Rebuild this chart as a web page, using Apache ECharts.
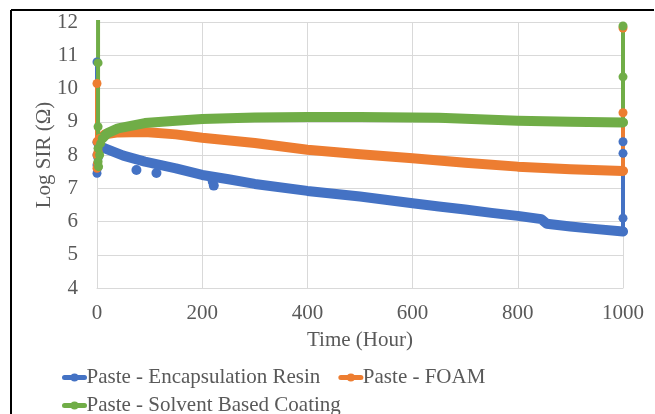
<!DOCTYPE html>
<html lang="en">
<head>
  <meta charset="UTF-8">
  <title>Log SIR vs Time</title>
  <style>
    * { margin: 0; padding: 0; box-sizing: border-box; }
    body { background: #fff; }
    #chart { width: 655px; height: 414px; }
  </style>
</head>
<body>
  <div id="chart"></div>
</body>
<script src="https://cdn.jsdelivr.net/npm/echarts@6/dist/echarts.min.js"></script>
<script>
  const seriesNames = ['Paste - Encapsulation Resin', 'Paste - FOAM', 'Paste - Solvent Based Coating']
  const colors = ['#4472C4', '#ED7D31', '#70AD47']

  // Encapsulation Resin
  const hoursEnc = [4, 15, 50, 91, 150, 200, 250, 300, 400, 500, 600, 650, 700, 750, 800, 845, 855, 900, 950, 1000]
  const sirEnc = [8.25, 8.2, 7.98, 7.8, 7.6, 7.4, 7.27, 7.13, 6.92, 6.75, 6.55, 6.45, 6.36, 6.26, 6.17, 6.07, 5.93, 5.85, 5.77, 5.7]
  const hoursEncStart = [0, 0, 0, 0, 0, 1, 2, 3, 4]
  const sirEncStart = [10.8, 8.38, 8.0, 7.7, 7.45, 7.6, 7.9, 8.1, 8.25]
  const hoursEncEnd = [1000, 1000, 1000, 1000]
  const sirEncEnd = [5.7, 6.1, 8.05, 8.4]
  const hoursEncOut = [75, 113, 220, 222]
  const sirEncOut = [7.55, 7.46, 7.2, 7.08]

  // FOAM
  const hoursFoam = [5, 15, 40, 91, 150, 200, 300, 400, 500, 600, 700, 800, 900, 1000]
  const sirFoam = [8.5, 8.62, 8.68, 8.69, 8.62, 8.52, 8.36, 8.16, 8.02, 7.9, 7.77, 7.65, 7.57, 7.52]
  const hoursFoamStart = [0, 0, 0, 0, 1, 2, 4, 5]
  const sirFoamStart = [10.15, 8.4, 8.0, 7.6, 7.75, 8.1, 8.4, 8.5]
  const hoursFoamEnd = [1000, 1000, 1000]
  const sirFoamEnd = [7.52, 9.27, 11.82]

  // Solvent Based Coating
  const hoursSolv = [10, 20, 40, 91, 150, 200, 300, 400, 500, 600, 650, 700, 750, 800, 900, 1000]
  const sirSolv = [8.5, 8.66, 8.8, 8.96, 9.03, 9.08, 9.13, 9.14, 9.14, 9.13, 9.12, 9.09, 9.06, 9.03, 9.0, 8.98]
  const hoursSolvStart = [2, 2, 2, 2, 2, 3, 5, 7, 10]
  const sirSolvStart = [12.4, 10.77, 8.85, 8.2, 7.8, 7.65, 8.0, 8.35, 8.5]
  const hoursSolvEnd = [1000, 1000, 1000]
  const sirSolvEnd = [8.98, 10.35, 11.88]

  const xTicks = { min: 0, max: 1000, interval: 200 }
  const yTicks = { min: 4, max: 12, interval: 1 }

  function zip(xs, ys) {
    return xs.map((x, i) => [x, ys[i]])
  }

  function mainSeries(idx, xs, ys) {
    return {
      name: seriesNames[idx], type: 'line', data: zip(xs, ys),
      symbol: 'circle', symbolSize: 9, showSymbol: false,
      lineStyle: { width: 10, color: colors[idx], cap: 'round', join: 'round' },
      itemStyle: { color: colors[idx] },
      clip: true, animation: false
    }
  }

  function spikeSeries(idx, xs, ys) {
    return {
      name: seriesNames[idx], type: 'line', data: zip(xs, ys),
      symbol: 'circle', symbolSize: 9, showSymbol: true, showAllSymbol: true,
      lineStyle: { width: 4, color: colors[idx] },
      itemStyle: { color: colors[idx] },
      clip: true, animation: false
    }
  }

  const font = 'Liberation Serif'
  const grey = '#595959'
  const fs = 21
  const legendText = { fontFamily: font, fontSize: fs, color: grey, padding: [0, 0, 0, -3] }

  const chart = echarts.init(document.getElementById('chart'))
  chart.setOption({
    backgroundColor: '#fff',
    animation: false,
    grid: { left: 97, right: 32, top: 22, bottom: 126 },
    xAxis: {
      type: 'value', min: xTicks.min, max: xTicks.max, interval: xTicks.interval,
      name: 'Time (Hour)', nameLocation: 'middle', nameGap: 42,
      nameTextStyle: { fontFamily: font, fontSize: fs, color: grey },
      axisLine: { show: true, lineStyle: { color: '#d9d9d9' } },
      axisTick: { show: false },
      axisLabel: { fontFamily: font, fontSize: fs, color: grey, margin: 15, formatter: v => String(v) },
      splitLine: { show: true, lineStyle: { color: '#d9d9d9' } }
    },
    yAxis: {
      type: 'value', min: yTicks.min, max: yTicks.max, interval: yTicks.interval,
      name: 'Log SIR (Ω)', nameLocation: 'middle', nameGap: 42, nameMoveOverlap: false,
      nameTextStyle: { fontFamily: font, fontSize: fs, color: grey },
      axisLine: { show: true, lineStyle: { color: '#d9d9d9' } },
      axisTick: { show: false },
      axisLabel: { fontFamily: font, fontSize: fs, color: grey, margin: 19 },
      splitLine: { show: true, lineStyle: { color: '#d9d9d9' } }
    },
    legend: [
      {
        data: seriesNames.slice(0, 2), left: 57, top: 362,
        itemWidth: 20, itemHeight: 10, itemGap: 18,
        lineStyle: { width: 5 }, textStyle: legendText
      },
      {
        data: seriesNames.slice(2), left: 57, top: 390,
        itemWidth: 20, itemHeight: 10,
        lineStyle: { width: 5 }, textStyle: legendText
      }
    ],
    graphic: [
      { type: 'line', shape: { x1: 11, y1: 10, x2: 11, y2: 414 }, style: { stroke: '#000', lineWidth: 2 } },
      { type: 'line', shape: { x1: 11, y1: 10, x2: 654, y2: 10 }, style: { stroke: '#000', lineWidth: 2 } }
    ],
    series: [
      mainSeries(0, hoursEnc, sirEnc),
      spikeSeries(0, hoursEncStart, sirEncStart),
      spikeSeries(0, hoursEncEnd, sirEncEnd),
      {
        name: seriesNames[0], type: 'scatter', data: zip(hoursEncOut, sirEncOut),
        symbolSize: 10, itemStyle: { color: colors[0], opacity: 1 }, animation: false
      },
      mainSeries(1, hoursFoam, sirFoam),
      spikeSeries(1, hoursFoamStart, sirFoamStart),
      spikeSeries(1, hoursFoamEnd, sirFoamEnd),
      mainSeries(2, hoursSolv, sirSolv),
      spikeSeries(2, hoursSolvStart, sirSolvStart),
      spikeSeries(2, hoursSolvEnd, sirSolvEnd)
    ]
  })
</script>
</html>
